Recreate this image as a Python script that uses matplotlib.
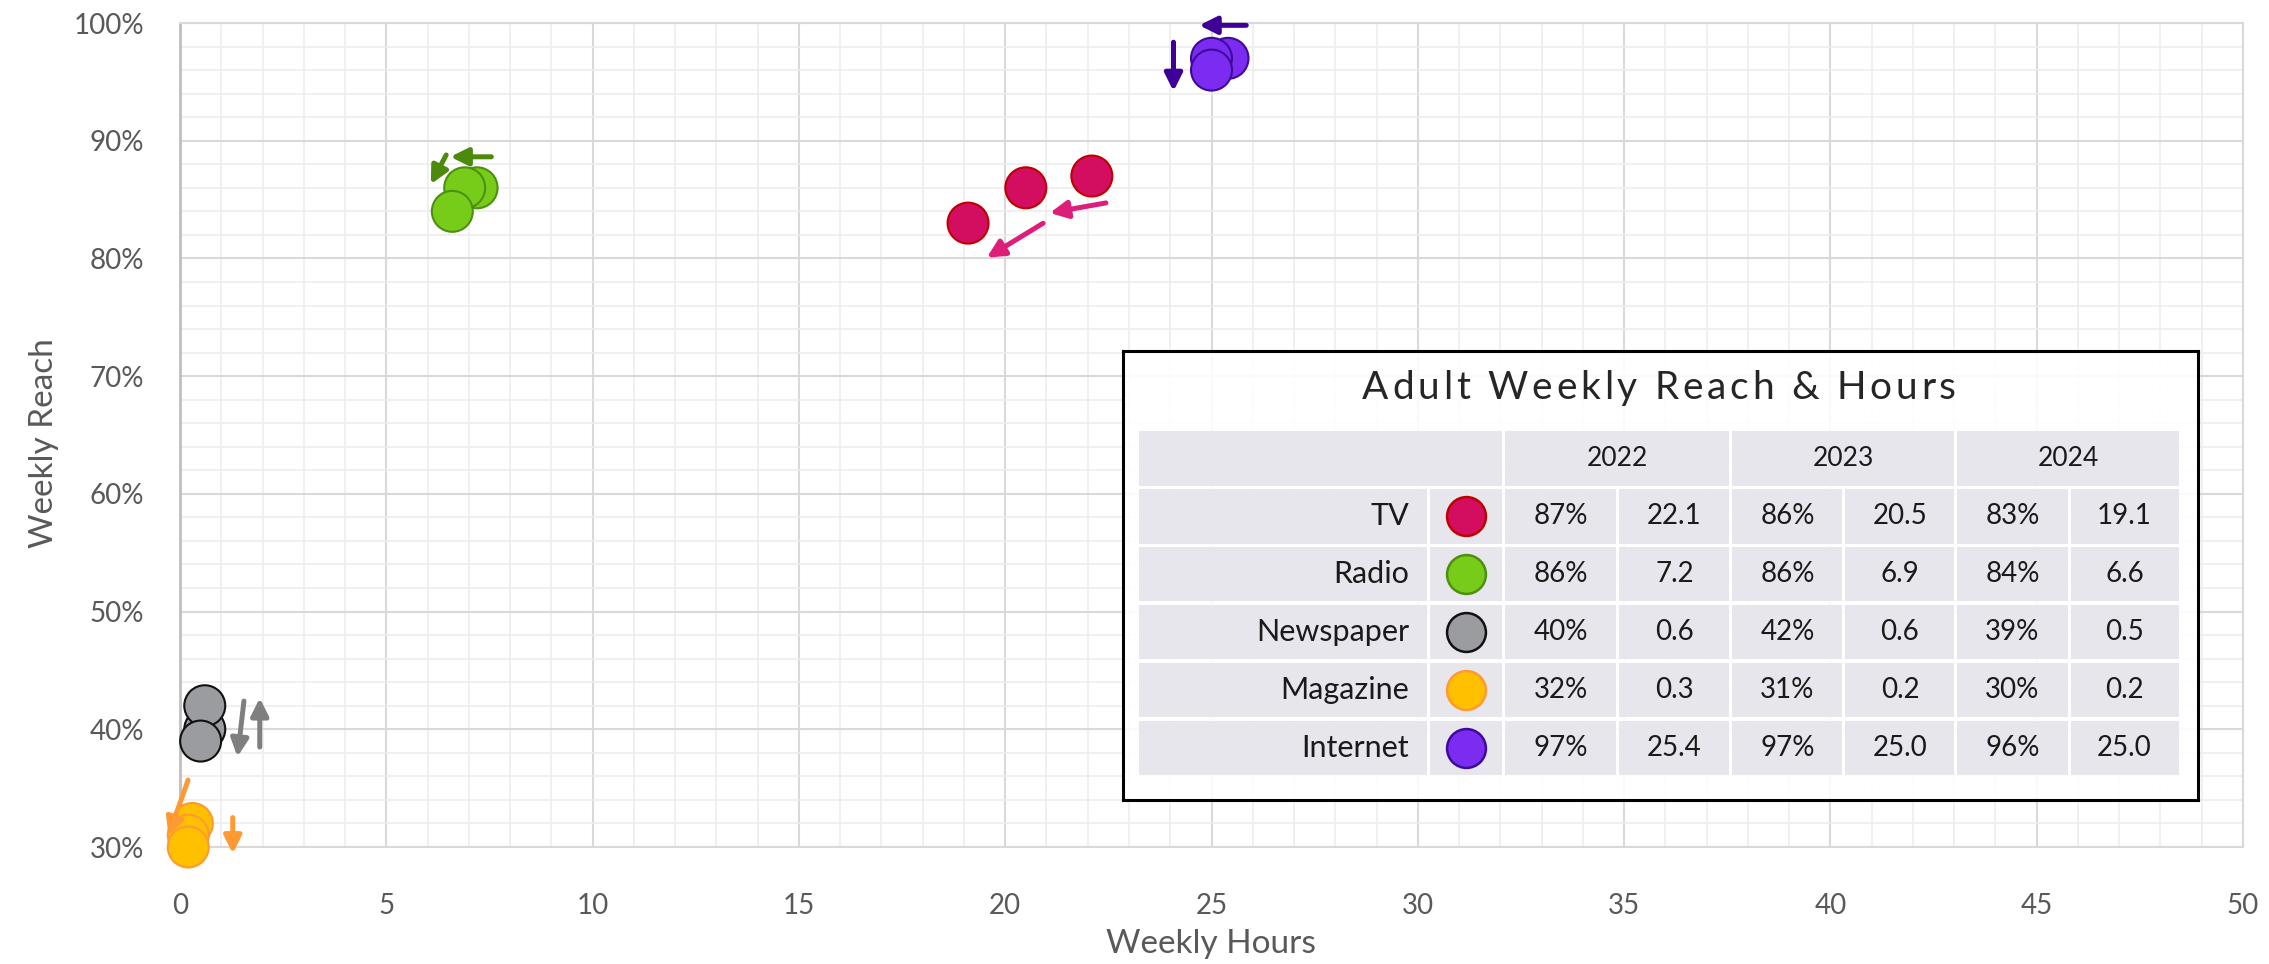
import numpy as np
import matplotlib
matplotlib.use("Agg")
import matplotlib.pyplot as plt
from matplotlib.patches import Rectangle
from matplotlib.ticker import MultipleLocator, FuncFormatter

# ===== DATA =====
media = ["TV", "Radio", "Newspaper", "Magazine", "Internet"]
years = ["2022", "2023", "2024"]

reach_2022 = [87, 86, 40, 32, 97]
reach_2023 = [86, 86, 42, 31, 97]
reach_2024 = [83, 84, 39, 30, 96]

hours_2022 = [22.1, 7.2, 0.6, 0.3, 25.4]
hours_2023 = [20.5, 6.9, 0.6, 0.2, 25.0]
hours_2024 = [19.1, 6.6, 0.5, 0.2, 25.0]

# ===== STYLE =====
fill_colors = ["#D30E60", "#77CC19", "#9A9CA0", "#FFC000", "#7B2CF0"]
edge_colors = ["#C00000", "#4F8F0F", "#111111", "#FF9A33", "#3D0A9C"]
arrow_colors = ["#DD1F7A", "#4C8A0C", "#7F7F7F", "#FF9A33", "#3E0099"]

# arrow per change (2022->2023, 2023->2024): offset of arrow centre from
# the midpoint of the two dots in px (x right, y down) and arrow length in px
arrow_layout = [
    [(19, 26, 57), (18, 35, 66)],
    [(0, -31, 41), (-20, -30, 33)],
    [(55, 5, 49), (38, 5.5, 56)],
    [(-12, -21.5, 59), (44.5, -5.5, 36)],
    [(3, -33, 47), (-38, 2.5, 49)],
]

plt.rcParams["font.family"] = ["Lato", "DejaVu Sans"]

W, H = 2269, 964
DOT = 870
fig = plt.figure(figsize=(W / 100, H / 100), dpi=100)

# ===== MAIN AXES =====
ax = fig.add_axes([180 / W, 1 - 847 / H, (2243 - 180) / W, (847 - 23) / H])
ax.set_xlim(0, 50)
ax.set_ylim(30, 100)
ax.xaxis.set_major_locator(MultipleLocator(5))
ax.xaxis.set_minor_locator(MultipleLocator(1))
ax.yaxis.set_major_locator(MultipleLocator(10))
ax.yaxis.set_minor_locator(MultipleLocator(2))
ax.yaxis.set_major_formatter(FuncFormatter(lambda v, _: f"{v:.0f}%"))
ax.grid(which="major", color="#D9D9D9", lw=1.5)
ax.grid(which="minor", color="#EDEDED", lw=1.2)
ax.set_axisbelow(True)
ax.tick_params(which="both", length=0)
ax.tick_params(axis="x", pad=33, labelsize=20, labelcolor="#595959")
ax.tick_params(axis="y", pad=26, labelsize=20, labelcolor="#595959")
for side in ["top", "right", "bottom"]:
    ax.spines[side].set_color("#D9D9D9")
    ax.spines[side].set_linewidth(1.5)
ax.spines["left"].set_color("#BFBFBF")
ax.spines["left"].set_linewidth(2)

fig.text(44 / W, 1 - 443 / H, "Weekly Reach", rotation=90, ha="center", va="center",
         fontsize=24, color="#595959")
fig.text(1211 / W, 1 - 944 / H, "Weekly Hours", ha="center", va="center",
         fontsize=24, color="#595959")

# ===== DOTS =====
all_hours = [hours_2022, hours_2023, hours_2024]
all_reach = [reach_2022, reach_2023, reach_2024]
for j in range(len(years)):
    ax.scatter(all_hours[j], all_reach[j], s=DOT, c=fill_colors, edgecolors=edge_colors,
               linewidths=1.5, zorder=3 + j, clip_on=False)

# ===== ARROWS =====
for i in range(len(media)):
    track = [(all_hours[j][i], all_reach[j][i]) for j in range(len(years))]
    disp = ax.transData.transform(track)
    for k in range(len(years) - 1):
        a, b = disp[k], disp[k + 1]
        dx, dy, length = arrow_layout[i][k]
        mid = (a + b) / 2 + np.array([dx, -dy])
        d = (b - a) / np.linalg.norm(b - a)
        start = mid - d * length / 2
        end = mid + d * length / 2
        ax.annotate("", xy=end, xytext=start, xycoords="figure pixels",
                    textcoords="figure pixels", annotation_clip=False, zorder=7,
                    arrowprops=dict(arrowstyle="-|>,head_length=0.52,head_width=0.26",
                                    color=arrow_colors[i], lw=3.6, shrinkA=0, shrinkB=0,
                                    mutation_scale=20))

# ===== TABLE BOX =====
bx0, bx1, by0, by1 = 1123, 2198, 351, 800
tab = fig.add_axes([bx0 / W, 1 - by1 / H, (bx1 - bx0) / W, (by1 - by0) / H])
tab.set_xlim(bx0, bx1)
tab.set_ylim(by1, by0)
tab.set_xticks([])
tab.set_yticks([])
tab.patch.set_facecolor((1, 1, 1, 0.88))
for sp in tab.spines.values():
    sp.set_color("black")
    sp.set_linewidth(2.2)


def spaced_title(xc, yc, s, spacing, **kw):
    # letter-spaced text, tab data units are pixels
    r = fig.canvas.get_renderer()
    widths = []
    for ch in s:
        if ch == " ":
            widths.append(kw["fontsize"] * 0.35)
            continue
        t = tab.text(0, 0, ch, **kw)
        widths.append(t.get_window_extent(r).width)
        t.remove()
    total = sum(widths) + spacing * (len(s) - 1)
    x = xc - total / 2
    for ch, w in zip(s, widths):
        if ch != " ":
            tab.text(x, yc, ch, ha="left", va="center", **kw)
        x += w + spacing


spaced_title(1659, 388, "Adult Weekly Reach & Hours", 3.8, fontsize=28, color="#262626")

cell_color = "#E7E6EC"
gap = 3
cols = [1138, 1429, 1504, 1618, 1731, 1844, 1956, 2069, 2180]
head_top, head_bot = 431, 486
row_top0, row_h, row_step = 489, 54.5, 57.9


def cell(x0, x1, y0, y1):
    tab.add_patch(Rectangle((x0 + gap / 2, y0), x1 - x0 - gap, y1 - y0,
                            facecolor=cell_color, edgecolor="none", zorder=1))


# header
cell(cols[0], cols[2], head_top, head_bot)
for yi, yr in enumerate(years):
    x0, x1 = cols[2 + 2 * yi], cols[4 + 2 * yi]
    cell(x0, x1, head_top, head_bot)
    tab.text((x0 + x1) / 2, (head_top + head_bot) / 2, yr, ha="center", va="center",
             fontsize=19, color="#1A1A1A")

# rows
for i, name in enumerate(media):
    y0 = row_top0 + i * row_step
    y1 = y0 + row_h
    yc = (y0 + y1) / 2
    for c in range(len(cols) - 1):
        cell(cols[c], cols[c + 1], y0, y1)
    tab.text(cols[1] - 20, yc, name, ha="right", va="center", fontsize=22, color="#1A1A1A")
    tab.scatter([(cols[1] + cols[2]) / 2], [yc], s=DOT * 0.9, c=[fill_colors[i]],
                edgecolors=[edge_colors[i]], linewidths=1.8, zorder=3)
    for j in range(len(years)):
        xr = (cols[2 + 2 * j] + cols[3 + 2 * j]) / 2
        xh = (cols[3 + 2 * j] + cols[4 + 2 * j]) / 2
        tab.text(xr, yc, f"{all_reach[j][i]}%", ha="center", va="center",
                 fontsize=20, color="#1A1A1A")
        tab.text(xh, yc, f"{all_hours[j][i]:.1f}", ha="center", va="center",
                 fontsize=20, color="#1A1A1A")

fig.savefig("out.png", dpi=100)
